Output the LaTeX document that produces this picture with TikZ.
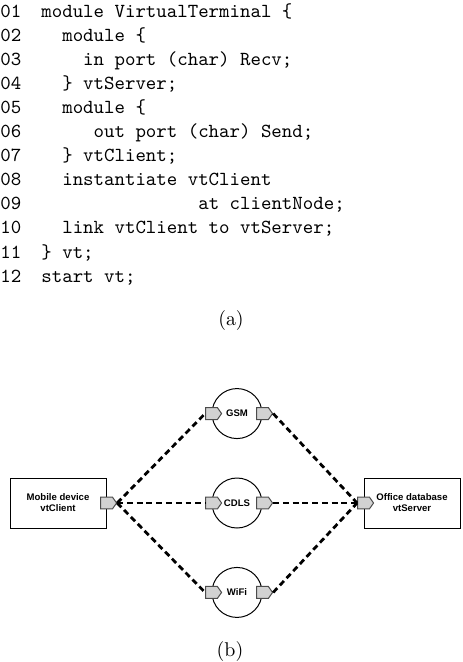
\documentclass[tikz,border=0pt]{standalone}
\usepackage{fontspec}
\newfontfamily\labelfont{Liberation Sans}
\usetikzlibrary{%
    shapes.symbols,%
    positioning%
}
\tikzset{
    codeline/.style = {anchor = base west, inner sep = 0pt, font = \ttfamily},
    unit/.style = {draw, rectangle, line width = 0.5pt, minimum width = 48.2pt,
    minimum height = 25.1pt, inner sep = 0pt, align = center,
    font = \labelfont\bfseries\fontsize{4.8}{5.5}\selectfont},
    medium/.style = {draw, circle, line width = 0.5pt, minimum size = 25.1pt,
    inner sep = 0pt, font = \labelfont\bfseries\fontsize{4.8}{5.5}\selectfont},
    port/.style = {signal, signal to = east, signal pointer angle = 110, draw,
    draw = black!70, line width = 0.5pt, fill = gray!35, minimum width = 8pt,
    minimum height = 6pt, inner sep = 0pt},
    link/.style = {line width = 1.4pt, dash pattern = on 3pt off 1.9pt}
}
\begin{document}
\begin{tikzpicture}[x = 0.502pt, y = -0.502pt]
    \useasboundingbox (0,0) rectangle (462,662);
    \foreach \ind/\txt [count = \k] in {%
        0/{module VirtualTerminal \{},
        2/{module \{},
        4/{in port (char) Recv;},
        2/{\} vtServer;},
        2/{module \{},
        5/{out port (char) Send;},
        2/{\} vtClient;},
        2/{instantiate vtClient},
        15/{at clientNode;},
        2/{link vtClient to vtServer;},
        0/{\} vt;},
        0/{start vt;}} {
        \node[codeline] (num\k) at (0, {18+24*(\k-1)}) {\ifnum\k<10 0\fi\k};
        \node[codeline] (line\k) at ({41+10.46*\ind}, {18+24*(\k-1)}) {\txt};
    }
    \node (capa) at (231,321) {(a)};

    \node[medium] (cdls) at (237,503) {CDLS};
    \node[medium, above = 19.3pt of cdls] (gsm) {GSM};
    \node[medium, below = 19.3pt of cdls] (wifi) {WiFi};
    \node[unit, left = 52.7pt of cdls] (client) {Mobile device\\vtClient};
    \node[unit, right = 50.7pt of cdls] (server) {Office database\\vtServer};
    \node[port] (clientport) at (client.east) {};
    \node[port] (serverport) at (server.west) {};
    \foreach \m in {gsm, cdls, wifi} {
        \node[port] (\m-in) at (\m.west) {};
        \node[port] (\m-out) at (\m.east) {};
        \draw[link] (clientport.east) -- (\m-in.west);
        \draw[link] (\m-out.east) -- (serverport.west);
    }
    \node (capb) at (230,652) {(b)};
\end{tikzpicture}
\end{document}
